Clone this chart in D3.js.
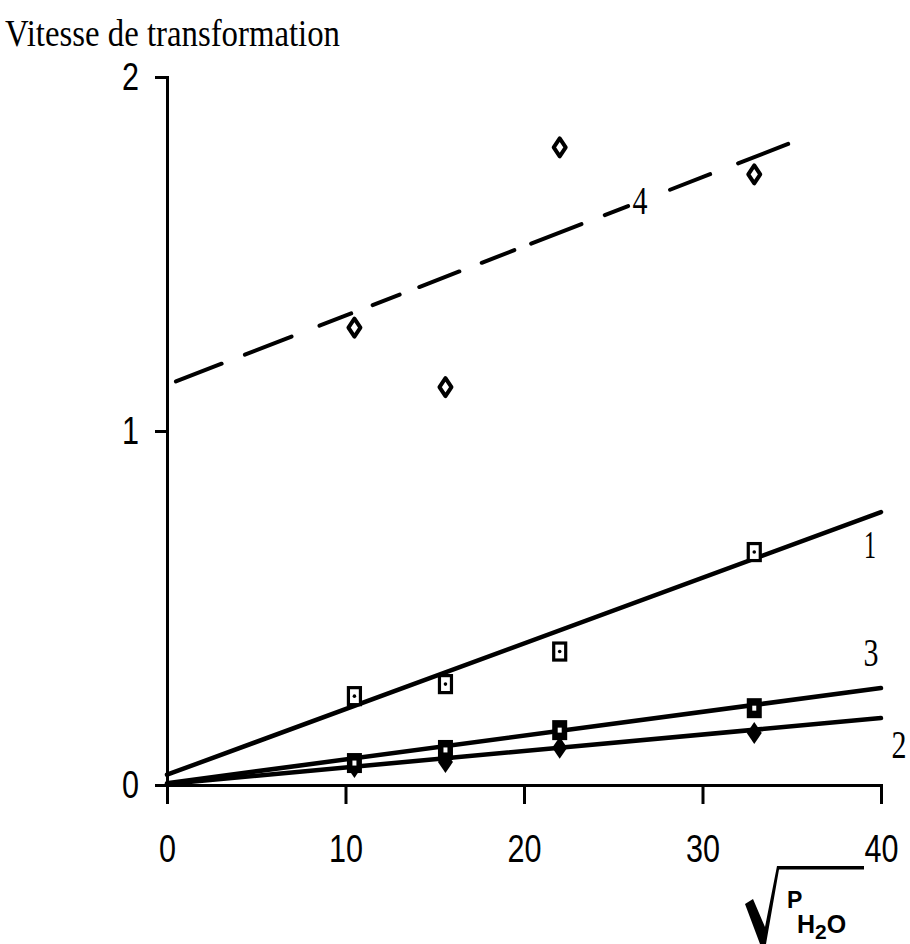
<!DOCTYPE html>
<html><head><meta charset="utf-8">
<script src="https://cdn.jsdelivr.net/npm/d3@7"></script>
<style>body{margin:0;background:#fff}</style>
</head><body>
<svg id="chart" width="910" height="944"></svg>
<script>
// ---- data ----
const xValues = [10.5, 15.6, 22, 32.9];
const series1 = [0.251, 0.285, 0.377, 0.658];  // open squares
const series2 = [0.051, 0.065, 0.105, 0.147];  // filled diamonds
const series3 = [0.062, 0.099, 0.155, 0.217];  // filled squares
const series4 = [1.292, 1.124, 1.801, 1.725];  // open diamonds
const fitX = [0, 40];
const fit1 = [0.029, 0.771];
const fit2 = [0.003, 0.189];
const fit3 = [0.005, 0.274];
const fit4X = [0.5, 34.8];
const fit4 = [1.140, 1.811];
const xTicks = [0, 10, 20, 30, 40];
const yTicks = [0, 1, 2];
const lineLabels = ["1", "2", "3", "4"];
const yTitle = "Vitesse de transformation";

const svg = d3.select("#chart");
const x = d3.scaleLinear().domain([0, 40]).range([167, 881]);
const y = d3.scaleLinear().domain([0, 2]).range([785, 77]);
const tickFont = "'Liberation Sans', 'DejaVu Sans', sans-serif";
const serif = "'Liberation Serif', 'DejaVu Serif', serif";

// title
svg.append("text").attr("x", 5).attr("y", 46)
  .attr("font-family", serif).attr("font-size", 38)
  .attr("textLength", 335).attr("lengthAdjust", "spacingAndGlyphs")
  .text(yTitle);

// axes
const gx = svg.append("g").attr("transform", `translate(0,${y(0)})`)
  .call(d3.axisBottom(x).tickValues(xTicks).tickSize(19).tickSizeOuter(19).tickPadding(31).tickFormat(d3.format("d")));
const gy = svg.append("g").attr("transform", `translate(${x(0)},0)`)
  .call(d3.axisLeft(y).tickValues(yTicks).tickSize(12).tickSizeOuter(12).tickPadding(16).tickFormat(d3.format("d")));
[gx, gy].forEach(g => {
  g.selectAll("path,line").attr("stroke", "#000").attr("stroke-width", 3);
  g.selectAll("text").attr("font-family", tickFont).attr("font-size", 38).attr("fill", "#000")
    .attr("textLength", function() { return this.textContent.length * 17; })
    .attr("lengthAdjust", "spacingAndGlyphs");
});
gy.selectAll("text").attr("dy", "0.34em");

// fitted lines
const line = d3.line().x(d => x(d[0])).y(d => y(d[1]));
const fits = [
  { xs: fitX, ys: fit1 }, { xs: fitX, ys: fit2 }, { xs: fitX, ys: fit3 }
];
fits.forEach(f => {
  svg.append("path").datum(f.xs.map((v, i) => [v, f.ys[i]]))
    .attr("d", line).attr("fill", "none").attr("stroke", "#000")
    .attr("stroke-width", 4.5).attr("stroke-linecap", "round");
});
svg.append("path").datum(fit4X.map((v, i) => [v, fit4[i]]))
  .attr("d", line).attr("fill", "none").attr("stroke", "#000")
  .attr("stroke-width", 4).attr("stroke-linecap", "round")
  .attr("stroke-dasharray", "49,25,50,30,34,23,29,21,43,24,35,18,54,25,25,45,43,30,54,40");

// markers
const pts = arr => xValues.map((v, i) => [x(v), y(arr[i])]);

// series 2 : filled diamonds
svg.append("g").selectAll("path").data(pts(series2)).join("path")
  .attr("transform", d => `translate(${d[0]},${d[1]})`)
  .attr("d", "M0,-11L7.5,0L0,11L-7.5,0Z").attr("fill", "#000");

// series 3 : filled squares with white centre
const g3 = svg.append("g").selectAll("g").data(pts(series3)).join("g")
  .attr("transform", d => `translate(${d[0]},${d[1]})`);
g3.append("rect").attr("x", -7.5).attr("y", -10).attr("width", 15).attr("height", 20).attr("fill", "#000");
g3.append("rect").attr("x", -2).attr("y", -2.5).attr("width", 4).attr("height", 5).attr("fill", "#fff");

// series 1 : open squares with dot
const g1 = svg.append("g").selectAll("g").data(pts(series1)).join("g")
  .attr("transform", d => `translate(${d[0]},${d[1]})`);
g1.append("rect").attr("x", -6).attr("y", -8.5).attr("width", 12).attr("height", 17)
  .attr("fill", "#fff").attr("stroke", "#000").attr("stroke-width", 3.2);
g1.append("circle").attr("r", 1.8).attr("fill", "#000");

// series 4 : open diamonds
svg.append("g").selectAll("path").data(pts(series4)).join("path")
  .attr("transform", d => `translate(${d[0]},${d[1]})`)
  .attr("d", "M0,-9L6,0L0,9L-6,0Z")
  .attr("fill", "#fff").attr("stroke", "#000").attr("stroke-width", 4).attr("stroke-linejoin", "round");

// line labels
const lbl = (t, px, py) => svg.append("text").attr("x", px).attr("y", py)
  .attr("text-anchor", "middle").attr("font-family", serif).attr("font-size", 40)
  .attr("textLength", t === "1" ? 12 : 15).attr("lengthAdjust", "spacingAndGlyphs").text(t);
lbl(lineLabels[0], x(40) - 11, y(fit1[1]) + 46);
lbl(lineLabels[1], x(40) + 18, y(fit2[1]) + 40);
lbl(lineLabels[2], x(40) - 10, y(fit3[1]) - 22);
const x4 = 26.5;
lbl(lineLabels[3], x(x4), y(fit4[0] + (fit4[1] - fit4[0]) * (x4 - fit4X[0]) / (fit4X[1] - fit4X[0])) + 13);

// x-axis title: sqrt(P_H2O)
svg.append("path")
  .attr("d", "M745,904L753,899L765,927L777,866L864,866L864,869.5L779,869.5L766,944L760,944Z")
  .attr("fill", "#000");
const xt = svg.append("text").attr("x", 787).attr("y", 908)
  .attr("font-family", tickFont).attr("font-weight", "bold").attr("font-size", 23);
xt.append("tspan").text("P");
xt.append("tspan").attr("x", 797).attr("dy", 25).attr("font-size", 25).text("H");
xt.append("tspan").attr("dy", 6).attr("font-size", 21).text("2");
xt.append("tspan").attr("dy", -6).attr("font-size", 25).text("O");
</script>
</body></html>
